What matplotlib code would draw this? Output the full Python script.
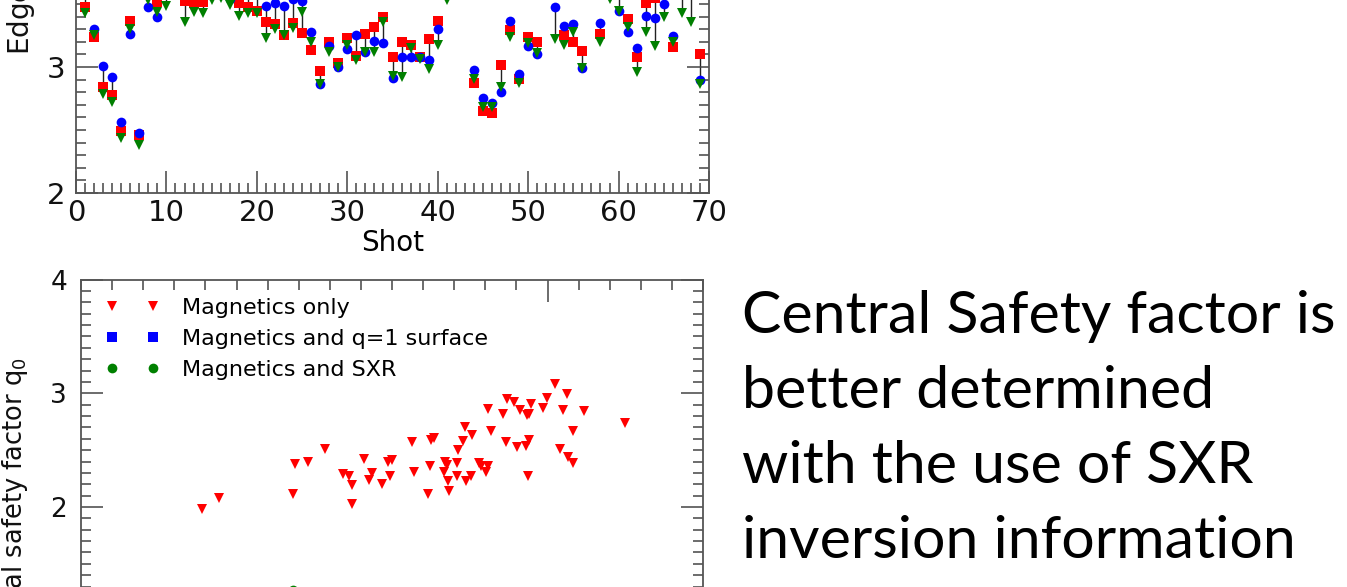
import numpy as np
import matplotlib
matplotlib.use("Agg")
import matplotlib.pyplot as plt
from matplotlib.ticker import MultipleLocator, FixedLocator

nan = np.nan

# ---------------- edge safety factor per shot ----------------
shots = np.arange(1, 70)

qa_mag = [3.479, 3.238, 2.839, 2.778, 2.494, 3.367, 2.460, 3.60, 3.516, 3.60,
          nan, 3.526, 3.510, 3.518, 3.62, 3.62, 3.60, 3.506, 3.474, 3.447,
          3.357, 3.339, 3.254, 3.349, 3.267, 3.135, 2.966, 3.196, 3.029, 3.230,
          3.087, 3.264, 3.315, 3.394, 3.079, 3.201, 3.175, 3.082, 3.220, 3.367,
          3.60, nan, nan, 2.871, 2.651, 2.637, 3.016, 3.294, 2.905, 3.236,
          3.201, nan, nan, 3.254, 3.201, 3.127, nan, 3.260, 3.62, 3.60,
          3.381, 3.077, 3.510, 3.548, 3.60, 3.161, 3.60, 3.60, 3.101]

qa_q1 = [3.60, 3.299, 3.010, 2.921, 2.561, 3.264, 2.476, 3.476, 3.397, 3.62,
         nan, 3.62, 3.60, 3.60, 3.64, 3.64, 3.54, 3.60, 3.60, 3.60,
         3.484, 3.506, 3.487, 3.54, 3.524, 3.280, 2.863, 3.169, 3.002, 3.139,
         3.254, 3.121, 3.209, 3.188, 2.910, 3.077, 3.077, 3.077, 3.056, 3.302,
         3.62, nan, nan, 2.976, 2.756, 2.712, 2.799, 3.365, 2.942, 3.167,
         3.103, nan, 3.479, 3.328, 3.339, 2.994, nan, 3.347, 3.60, 3.444,
         3.275, 3.148, 3.407, 3.387, 3.500, 3.246, 3.62, 3.62, 2.897]

qa_sxr = [3.426, 3.254, 2.783, 2.725, 2.439, 3.299, 2.381, 3.53, 3.437, 3.484,
          nan, 3.360, 3.439, 3.431, 3.53, 3.55, 3.496, 3.405, 3.431, 3.426,
          3.228, 3.299, 3.254, 3.307, 3.434, 3.201, 2.863, 3.117, 2.998, 3.175,
          3.056, 3.121, 3.121, 3.355, 2.929, 2.918, 3.153, 3.063, 2.982, 3.175,
          3.53, nan, nan, 2.905, 2.680, 2.680, 2.839, 3.236, 2.871, 3.188,
          3.113, nan, 3.220, 3.175, 3.275, 2.994, nan, 3.201, 3.54, 3.444,
          3.315, 2.963, 3.275, 3.169, 3.394, 3.201, 3.426, 3.355, 2.865]

# ---------------- central safety factor ----------------
x_mag = [3.88, 4.45, 6.88, 7.29, 6.81, 7.85, 8.43, 8.63, 8.71, 8.72,
         9.11, 9.37, 9.25, 9.69, 9.88, 9.99, 9.95, 10.64, 11.24, 11.36,
         10.70, 11.21, 11.15, 11.70, 11.78, 11.67, 11.81, 11.84, 12.10, 12.10,
         12.12, 12.28, 12.35, 12.56, 12.37, 12.53, 12.80, 12.85, 13.09, 13.02,
         13.10, 13.17, 13.58, 13.69, 13.67, 13.92, 14.11, 14.02, 14.34, 14.41,
         14.47, 14.41, 14.32, 14.36, 14.87, 14.99, 15.24, 15.50, 15.64, 15.83,
         15.40, 15.66, 15.81, 16.17, 17.50]
q0_mag = [1.98, 2.08, 2.38, 2.40, 2.11, 2.51, 2.29, 2.27, 2.19, 2.03,
          2.42, 2.30, 2.24, 2.20, 2.40, 2.41, 2.27, 2.57, 2.59, 2.61,
          2.31, 2.36, 2.11, 2.40, 2.37, 2.31, 2.23, 2.14, 2.39, 2.27,
          2.50, 2.58, 2.70, 2.63, 2.23, 2.27, 2.39, 2.36, 2.36, 2.31,
          2.86, 2.67, 2.82, 2.95, 2.57, 2.92, 2.85, 2.53, 2.81, 2.82,
          2.91, 2.59, 2.54, 2.27, 2.87, 2.96, 3.08, 2.85, 2.99, 2.67,
          2.51, 2.44, 2.39, 2.84, 2.74]
x_q1 = []
q0_q1 = []
x_sxr = [6.82]
q0_sxr = [1.27]

legend_labels = ["Magnetics only", "Magnetics and q=1 surface", "Magnetics and SXR"]
side_text = ["Central Safety factor is",
             "better determined",
             "with the use of SXR",
             "inversion information"]

RED, BLUE, GREEN = "#ff0000", "#0000ff", "#007f00"
W, H = 1347, 587

fig = plt.figure(figsize=(W / 100, H / 100), dpi=100)
fig.patch.set_facecolor("white")


def style_axes(ax, labelsize):
    for s in ax.spines.values():
        s.set_color("#555555")
        s.set_linewidth(1.3)
    ax.tick_params(which="both", direction="in", top=True, right=True,
                   color="#444444", labelsize=labelsize, labelcolor="#111111")
    ax.tick_params(which="major", length=16, width=1.1)
    ax.tick_params(which="minor", length=7.5, width=1.1)


# ---------------- upper panel: edge q versus shot ----------------
ax1 = fig.add_axes([76 / W, 1 - 193 / H, 633 / W, 252 / H])
style_axes(ax1, 21)
ax1.tick_params(axis="x", pad=4)
ax1.tick_params(axis="y", pad=8)

lo = np.nanmin(np.vstack([qa_mag, qa_q1, qa_sxr]), axis=0)
hi = np.nanmax(np.vstack([qa_mag, qa_q1, qa_sxr]), axis=0)
ax1.vlines(shots, lo, hi, colors="#222222", linewidth=1.0, zorder=1)
ax1.plot(shots, qa_mag, "s", color=RED, ms=6.5, mew=0, zorder=2)
ax1.plot(shots, qa_q1, "o", color=BLUE, ms=7, mew=0, zorder=3)
ax1.plot(shots, qa_sxr, "v", color=GREEN, ms=6.5, mew=0, zorder=4)

ax1.set_xlim(0, 70)
ax1.set_ylim(2, 4)
ax1.xaxis.set_major_locator(MultipleLocator(10))
ax1.xaxis.set_minor_locator(MultipleLocator(1))
ax1.yaxis.set_major_locator(MultipleLocator(1))
ax1.yaxis.set_minor_locator(MultipleLocator(0.1))
ax1.set_xlabel("Shot", fontsize=20, labelpad=2)
fig.text(21 / W, 1 - 55 / H, "Edge safety factor q$_a$", rotation=90,
         va="bottom", ha="center", fontsize=20, color="#111111")

# ---------------- lower panel: central q ----------------
ax2 = fig.add_axes([81 / W, 1 - (279.6 + 341.1) / H, 622 / W, 341.1 / H])
style_axes(ax2, 19)
ax2.tick_params(axis="y", pad=10)

ax2.plot(x_mag, q0_mag, "v", color=RED, ms=7, mew=0, label=legend_labels[0])
ax2.plot(x_q1, q0_q1, "s", color=BLUE, ms=7, mew=0, label=legend_labels[1])
ax2.plot(x_sxr, q0_sxr, "o", color="#008000", ms=7, mew=0, label=legend_labels[2])

ax2.set_xlim(0, 20)
ax2.set_ylim(1, 4)
ax2.xaxis.set_major_locator(FixedLocator([15]))
ax2.xaxis.set_minor_locator(MultipleLocator(1))
ax2.yaxis.set_major_locator(MultipleLocator(1))
ax2.yaxis.set_minor_locator(MultipleLocator(0.1))
ax2.yaxis.set_major_formatter(plt.FormatStrFormatter("%d"))

ax2.legend(numpoints=2, frameon=False, loc="upper left",
           bbox_to_anchor=(0.0394, 0.946), borderaxespad=0, borderpad=0,
           handlelength=2.45, handletextpad=1.0, labelspacing=0.5,
           fontsize=16)

fig.text(15 / W, 1 - 357 / H, "Central safety factor q$_0$", rotation=90,
         va="top", ha="center", fontsize=18.5, color="#111111")

# ---------------- side statement ----------------
baselines = [333, 408, 483, 558]
for line, yb in zip(side_text, baselines):
    fig.text(742 / W, 1 - yb / H, line, fontsize=42.5, family="Lato",
             va="baseline", ha="left", color="black")

fig.savefig("out.png", dpi=100)
